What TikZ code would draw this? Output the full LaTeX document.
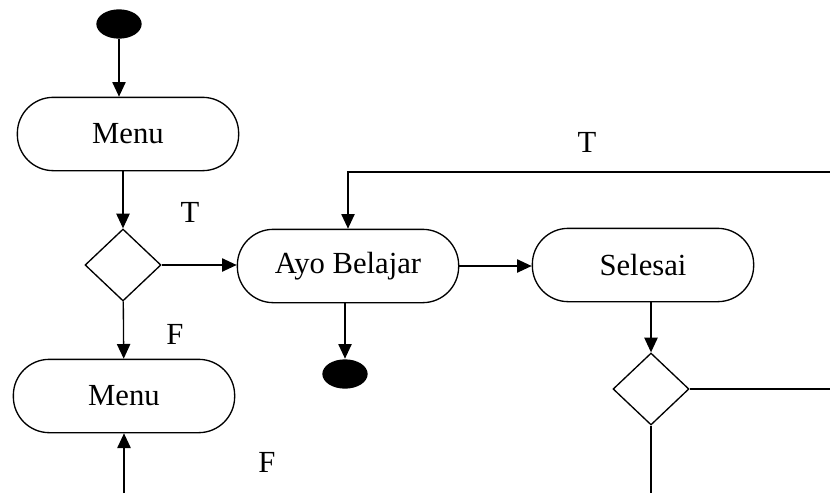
\documentclass[tikz,border=0pt]{standalone}
\usepackage{fontspec}
\setmainfont{Liberation Serif}
\usepackage{tikz}
\usetikzlibrary{arrows.meta, shapes.geometric}
\tikzset{every node/.append style={font=\fontsize{23}{28}\selectfont}}
\tikzset{
  activity/.style={draw, line width=1pt, rectangle, rounded corners=27pt,
    minimum width=166pt, minimum height=55pt, inner sep=0pt},
  decision/.style={draw, line width=1pt, diamond, minimum width=57pt,
    minimum height=54pt, inner sep=0pt},
  dot/.style={fill=black, ellipse, minimum width=34pt, minimum height=22pt, inner sep=0pt},
}

\begin{document}
\begin{tikzpicture}[x=0.75pt, y=-0.75pt, line width=1pt, >={Triangle[length=11pt,width=10pt]}]
    \useasboundingbox (0,0) rectangle (830,493);
    \node[dot] (start) at (119,24) {};
    \node[activity] (menuA) at (128,134) {Menu};
    \node[decision] (decA) at (123,265) {};
    \node[activity] (menuB) at (124,396) {Menu};
    \node[activity] (ayo) at (348,266) {Ayo Belajar};
    \node[dot] (stop) at (345,374) {};
    \node[activity] (selesai) at (643,265) {Selesai};
    \node[decision] (decB) at (651,389) {};
    % loose ends at the border
    \coordinate (topR) at (830,172);
    \coordinate (midR) at (830,389);
    \coordinate (botB) at (651,493);
    \coordinate (botA) at (124,493);
    \draw[->] (start) -- (start |- menuA.north);
    \draw[->] (decA |- menuA.south) -- (decA);
    \draw[->] (decA) -- (decA -| ayo.west);
    \draw[->] (decA) -- (menuB);
    \draw[->] (ayo.east) -- (ayo.east -| selesai.west);
    \draw[->] (ayo.south -| stop) -- (stop);
    \draw[->] (topR) -| (ayo.north);
    \draw[->] (decB |- selesai.south) -- (decB);
    \draw (decB) -- (midR);
    \draw (decB) -- (botB);
    \draw[->] (botA) -- (menuB);
    % guard labels
    \node (tA) at (190,212) {T};
    \node (tB) at (587,142) {T};
    \node (fA) at (175,334) {F};
    \node (fB) at (267,462) {F};
\end{tikzpicture}
\end{document}
